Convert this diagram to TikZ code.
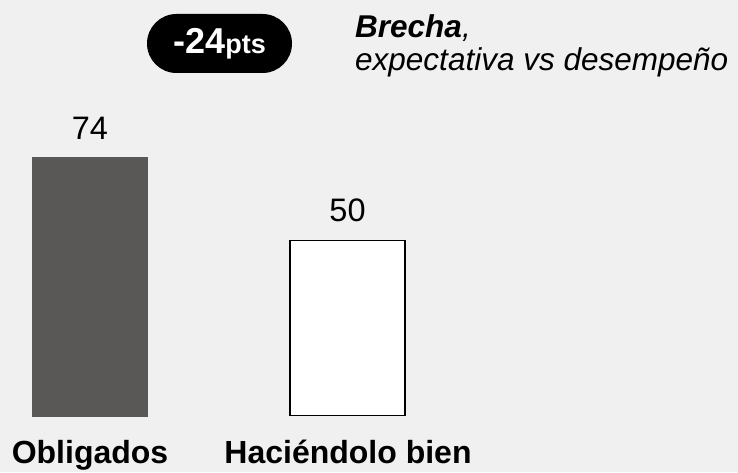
\documentclass[tikz,border=0pt]{standalone}
\usepackage{fontspec}
\setmainfont{Liberation Sans}
\usepackage{xcolor}
\definecolor{Canvas}{HTML}{F0F0F0}
\definecolor{Graphite}{HTML}{595856}
\colorlet{cBack}{Canvas}
\colorlet{cDark}{Graphite}
\usepackage{tikz}
\usetikzlibrary{positioning}
\tikzset{
	x = 1pt,
	y = 1pt,
	node distance = 17pt,
	bar/.style={
		draw=none,
		anchor=south,
		inner sep=0pt,
		minimum width=116pt
	},
	outline bar/.style={
		bar,
		draw=black,
		line width=1.5pt,
		fill=white
	},
	value/.style={
		inner sep=0pt,
		font=\fontsize{32.5}{32.5}\selectfont
	},
	category/.style={
		anchor=base,
		inner sep=0pt,
		font=\bfseries\fontsize{32}{32}\selectfont
	},
	pill/.style={
		fill=black,
		text=white,
		rounded corners=29.5pt,
		minimum width=145pt,
		minimum height=59pt,
		inner sep=0pt,
		font=\bfseries
	}
}

\begin{document}
\begin{tikzpicture}
% ---
% Canvas
% ---
\fill[cBack] (0,0) rectangle (738,472);
\useasboundingbox (0,0) rectangle (738,472);

% ---
% Bars
% ---
\node[bar, fill=cDark, minimum height=260pt] at (90,55) (obligados) {};
\node[outline bar, minimum width=115pt, minimum height=175pt] at (347.5,56) (haciendo) {};

\node[value, above=of obligados] (v74) {74};
\node[value, above=of haciendo] (v50) {50};

\node[category] at (90,9) (lobligados) {Obligados};
\node[category] at (348,9) (lhaciendo) {Haciéndolo bien};

% ---
% Gap
% ---
\node[pill] at (219.5,428.5) (gap) {{\fontsize{36}{36}\selectfont -24}{\fontsize{27}{27}\selectfont pts}};
\node[anchor=north west, align=left, inner sep=0pt, font=\itshape\fontsize{31.5}{33}\selectfont] at (355,457.5) (brecha) {\textbf{Brecha},\\expectativa vs desempeño};
\end{tikzpicture}
\end{document}
